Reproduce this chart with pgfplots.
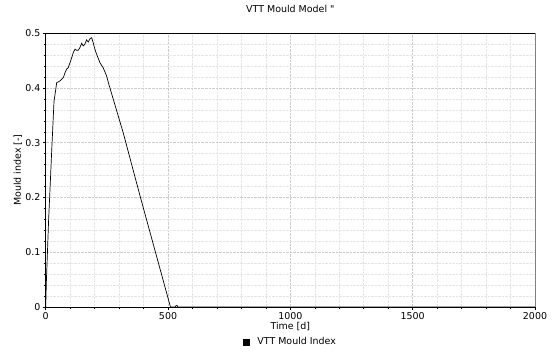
\documentclass[border=0pt]{standalone}
\usepackage{pgfplots}
\pgfplotsset{compat=1.18}
\usepackage{fontspec}
\setmainfont{DejaVu Sans}
\begin{document}
\fontsize{9.5pt}{11pt}\selectfont
\begin{tikzpicture}
\useasboundingbox (0,0) rectangle (553bp,352bp);
\begin{axis}[
  at={(45.7bp,45bp)}, anchor=south west,
  scale only axis, width=489.3bp, height=273.7bp,
  xmin=0, xmax=2000, ymin=0, ymax=0.5,
  xtick={0,500,1000,1500,2000},
  minor x tick num=4,
  ytick={0,0.1,0.2,0.3,0.4,0.5},
  minor y tick num=4,
  tick pos=left, tick align=outside,
  major tick length=3bp, minor tick length=2bp,
  every tick/.style={black, line width=0.6pt},
  grid=both,
  major grid style={gray!40, densely dotted, line width=0.6pt},
  minor grid style={gray!20, densely dotted, line width=0.5pt},
  axis line style={black, line width=0.7pt},
  /pgf/number format/assume math mode=true,
  /pgf/number format/1000 sep={},
  ticklabel style={font=\fontsize{9.5pt}{11pt}\selectfont},
  xticklabel style={inner sep=2bp},
  yticklabel style={inner sep=2bp},
  title={VTT Mould Model \textquotedbl},
  title style={font=\fontsize{9.5pt}{11pt}\selectfont, yshift=11bp},
  xlabel={Time [d]},
  xlabel style={font=\fontsize{9.5pt}{11pt}\selectfont, inner sep=1bp},
  ylabel={Mould index [-]},
  ylabel style={font=\fontsize{9.5pt}{11pt}\selectfont, yshift=-2bp},
  legend style={at={(0.5,-0.1)}, anchor=north, draw=none, fill=none,
    font=\fontsize{9.5pt}{11pt}\selectfont, inner sep=1bp},
  legend image code/.code={\fill[black] (2bp,-3bp) rectangle (8bp,3bp);},
  legend cell align=left,
]
\addplot[black, line width=0.7pt] coordinates {
(0,0) (3,0.05) (6.5,0.092) (12,0.16) (17.5,0.214) (25,0.29) (34,0.376) (41,0.397) (45,0.410)
(51,0.411) (58,0.413) (65,0.416) (72,0.419) (79,0.428) (86,0.435) (92,0.437)
(99,0.446) (106,0.455) (113,0.465) (120,0.471) (126,0.469) (133,0.469) (140,0.474)
(147,0.482) (153,0.477) (160,0.480) (167,0.488) (174,0.484) (181,0.490) (188,0.492)
(194,0.483) (201,0.471) (208,0.462) (222,0.446) (235,0.437) (249,0.422) (258,0.407)
(317,0.318) (385,0.204) (453,0.093) (510,0) (530,0) (533,0.003) (537,0.003) (540,0)
(2000,0)
};
\addlegendentry{\hspace{6bp}VTT Mould Index}
\end{axis}
\draw[gray, line width=1pt] (535bp,45bp) -- (535bp,318.7bp);
\end{tikzpicture}
\end{document}
